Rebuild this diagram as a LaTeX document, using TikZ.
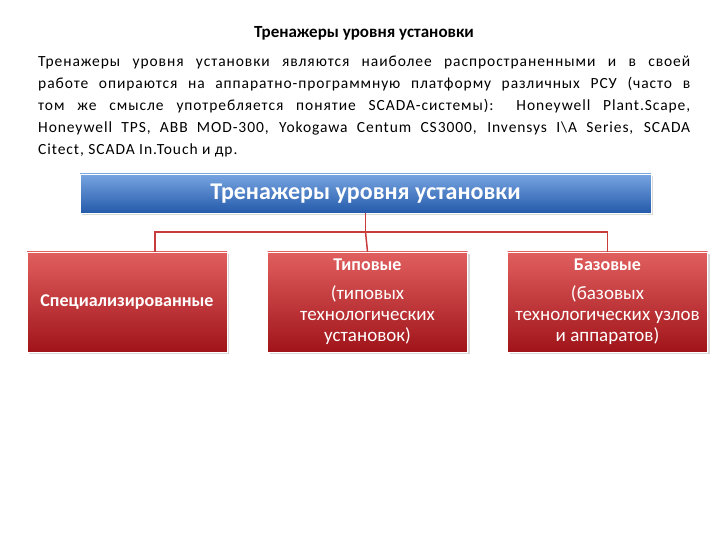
\documentclass[tikz,border=0pt]{standalone}
\usepackage{fontspec}
\setmainfont{Carlito}
\usetikzlibrary{shadows}
\begin{document}
\begin{tikzpicture}[x=1pt,y=1pt,
 redbox/.style={draw=white,line width=0.8pt,minimum width=200pt,minimum height=100pt,top color={rgb,255:red,225;green,95;blue,95},bottom color={rgb,255:red,160;green,20;blue,25},text=white,align=center,drop shadow={opacity=0.3},font=\fontsize{19}{21}\selectfont},
 conn/.style={draw={rgb,255:red,200;green,60;blue,60},line width=1.5pt}]
\useasboundingbox (0,0) rectangle (720,540);
\node[font=\bfseries\fontsize{17}{19}\selectfont] (title) at (364,507) {Тренажеры уровня установки};
\node[anchor=north west,text width=652pt,align=justify,inner sep=0pt,font=\fontsize{15.5}{22}\selectfont\addfontfeature{LetterSpace=6}] (para) at (38,484)
{\hyphenpenalty=10000 Тренажеры уровня установки являются наиболее распространенными и в своей\linebreak работе опираются на аппаратно-программную платформу различных РСУ  (часто в\linebreak том же смысле употребляется понятие SCADA-системы): Honeywell Plant.Scape,\linebreak Honeywell TPS, ABB MOD-300, Yokogawa Centum CS3000, Invensys I\textbackslash A Series, SCADA\linebreak Citect, SCADA In.Touch и др.};
\node[draw=white,line width=0.8pt,minimum width=571pt,minimum height=39pt,top color={rgb,255:red,120;green,165;blue,225},bottom color={rgb,255:red,35;green,90;blue,170},text=white,font=\bfseries\fontsize{24}{28}\selectfont,drop shadow={opacity=0.3}] (top) at (365.5,346.5) {Тренажеры уровня установки};
\node[redbox,font=\bfseries\fontsize{18}{20}\selectfont] (a) at (127,238) {Специализированные};
\node[redbox] (b) at (367.5,238) {\textbf{\fontsize{18}{20}\selectfont Типовые}\\[8pt](типовых\\технологических\\установок)};
\node[redbox] (c) at (607.5,238) {\textbf{\fontsize{18}{20}\selectfont Базовые}\\[8pt](базовых\\технологических узлов\\и аппаратов)};
\coordinate (j) at (365.5,308);
\draw[conn] (top.south) -- (j);
\draw[conn] (a.north -| 155,0) |- (j) -| (c.north);
\draw[conn] (j) -- (b.north);
\end{tikzpicture}
\end{document}
